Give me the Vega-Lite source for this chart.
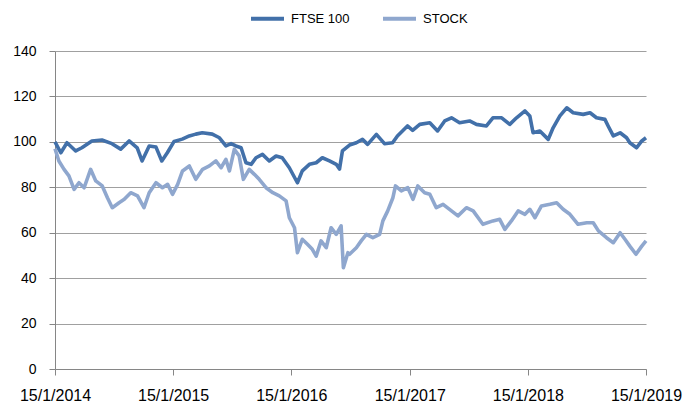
{
  "$schema": "https://vega.github.io/schema/vega-lite/v6.json",
  "width": 591,
  "height": 318,
  "autosize": {"type": "none"},
  "padding": {"left": 55, "top": 51, "right": 37, "bottom": 36},
  "background": "white",
  "config": {
    "view": {"stroke": null},
    "font": "Liberation Sans"
  },
  "datasets": {
    "ftse": [
      {"d":"2014-01-15","v":100},{"d":"2014-02-02","v":95.2},{"d":"2014-02-21","v":99.6},{"d":"2014-03-20","v":96},
      {"d":"2014-04-08","v":97.4},{"d":"2014-05-09","v":100.4},{"d":"2014-06-09","v":100.8},{"d":"2014-07-10","v":99.2},
      {"d":"2014-08-06","v":96.8},{"d":"2014-09-01","v":100.4},{"d":"2014-09-26","v":97.4},{"d":"2014-10-11","v":91.6},
      {"d":"2014-11-02","v":98.2},{"d":"2014-11-23","v":97.7},{"d":"2014-12-11","v":91.6},{"d":"2014-12-28","v":95.2},
      {"d":"2015-01-18","v":100.2},{"d":"2015-02-12","v":101.2},{"d":"2015-03-06","v":102.6},{"d":"2015-03-26","v":103.4},
      {"d":"2015-04-15","v":104},{"d":"2015-05-16","v":103.4},{"d":"2015-06-07","v":101.8},{"d":"2015-06-27","v":98.2},
      {"d":"2015-07-13","v":99.2},{"d":"2015-07-28","v":98.2},{"d":"2015-08-13","v":97.4},{"d":"2015-08-28","v":90.8},
      {"d":"2015-09-13","v":90.1},{"d":"2015-09-28","v":93},{"d":"2015-10-18","v":94.5},{"d":"2015-11-08","v":91.6},
      {"d":"2015-11-29","v":93.8},{"d":"2015-12-18","v":93},{"d":"2016-01-09","v":88.6},{"d":"2016-02-03","v":82},
      {"d":"2016-02-18","v":87.2},{"d":"2016-03-11","v":90.1},{"d":"2016-04-01","v":90.8},{"d":"2016-04-20","v":93},
      {"d":"2016-05-12","v":91.6},{"d":"2016-06-02","v":90.1},{"d":"2016-06-12","v":88},{"d":"2016-06-21","v":96},
      {"d":"2016-07-13","v":98.6},{"d":"2016-08-03","v":99.6},{"d":"2016-08-22","v":101.1},{"d":"2016-09-07","v":98.9},
      {"d":"2016-10-04","v":103.3},{"d":"2016-10-29","v":99.2},{"d":"2016-11-23","v":99.6},{"d":"2016-12-08","v":102.6},
      {"d":"2017-01-08","v":107},{"d":"2017-01-24","v":105.1},{"d":"2017-02-15","v":107.7},{"d":"2017-03-18","v":108.4},
      {"d":"2017-04-11","v":104.8},{"d":"2017-05-03","v":109.2},{"d":"2017-05-24","v":110.6},{"d":"2017-06-18","v":108.4},
      {"d":"2017-07-19","v":109.2},{"d":"2017-08-09","v":107.7},{"d":"2017-09-09","v":107},{"d":"2017-09-29","v":110.6},
      {"d":"2017-10-26","v":110.6},{"d":"2017-11-20","v":107.7},{"d":"2017-12-11","v":110.6},{"d":"2018-01-06","v":113.6},
      {"d":"2018-01-21","v":111.4},{"d":"2018-01-31","v":104},{"d":"2018-02-21","v":104.8},{"d":"2018-03-19","v":101.1},
      {"d":"2018-04-03","v":106.2},{"d":"2018-04-24","v":111.4},{"d":"2018-05-15","v":115},{"d":"2018-06-04","v":112.8},
      {"d":"2018-07-05","v":112.1},{"d":"2018-07-26","v":112.8},{"d":"2018-08-15","v":110.6},{"d":"2018-09-10","v":109.9},
      {"d":"2018-09-20","v":107},{"d":"2018-10-06","v":102.6},{"d":"2018-10-27","v":104},{"d":"2018-11-16","v":101.8},
      {"d":"2018-11-26","v":99.6},{"d":"2018-12-17","v":97.4},{"d":"2019-01-02","v":100.4},{"d":"2019-01-15","v":101.8}
    ],
    "stock": [
      {"d":"2014-01-15","v":97},{"d":"2014-01-27","v":91.6},{"d":"2014-02-12","v":87.9},{"d":"2014-02-27","v":85},
      {"d":"2014-03-15","v":79.1},{"d":"2014-03-30","v":82},{"d":"2014-04-15","v":79.8},{"d":"2014-05-05","v":87.9},
      {"d":"2014-05-21","v":82.8},{"d":"2014-06-10","v":80.6},{"d":"2014-06-26","v":75.4},{"d":"2014-07-11","v":71},
      {"d":"2014-08-01","v":73.2},{"d":"2014-08-17","v":74.7},{"d":"2014-09-06","v":77.6},{"d":"2014-09-27","v":76.2},
      {"d":"2014-10-17","v":71},{"d":"2014-11-02","v":77.6},{"d":"2014-11-23","v":82},{"d":"2014-12-13","v":79.8},
      {"d":"2014-12-29","v":81.3},{"d":"2015-01-13","v":76.9},{"d":"2015-01-29","v":81.3},{"d":"2015-02-13","v":87.2},
      {"d":"2015-03-06","v":89.4},{"d":"2015-03-26","v":83.5},{"d":"2015-04-16","v":87.9},{"d":"2015-05-07","v":89.4},
      {"d":"2015-05-27","v":91.6},{"d":"2015-06-12","v":88.6},{"d":"2015-06-27","v":92.3},{"d":"2015-07-08","v":87.2},
      {"d":"2015-07-23","v":96.7},{"d":"2015-08-07","v":93.8},{"d":"2015-08-20","v":83.5},{"d":"2015-09-07","v":87.9},
      {"d":"2015-09-23","v":85.7},{"d":"2015-10-08","v":83.5},{"d":"2015-10-29","v":79.8},{"d":"2015-11-19","v":77.6},
      {"d":"2015-12-09","v":76.2},{"d":"2015-12-30","v":74},{"d":"2016-01-09","v":66.6},{"d":"2016-01-25","v":62.2},
      {"d":"2016-02-03","v":51.2},{"d":"2016-02-18","v":57.1},{"d":"2016-03-05","v":54.9},{"d":"2016-03-20","v":52.7},
      {"d":"2016-04-01","v":49.7},{"d":"2016-04-16","v":56.4},{"d":"2016-05-02","v":53.4},{"d":"2016-05-17","v":62.2},
      {"d":"2016-06-02","v":59.3},{"d":"2016-06-17","v":63},{"d":"2016-06-24","v":44.6},{"d":"2016-07-08","v":51.2},
      {"d":"2016-07-13","v":50.5},{"d":"2016-08-03","v":53.4},{"d":"2016-08-18","v":56.4},{"d":"2016-09-03","v":59.3},
      {"d":"2016-09-23","v":57.8},{"d":"2016-10-14","v":59.3},{"d":"2016-10-24","v":65.2},{"d":"2016-11-08","v":69.6},
      {"d":"2016-11-24","v":75.4},{"d":"2016-12-02","v":80.6},{"d":"2016-12-20","v":78.4},{"d":"2017-01-09","v":79.8},
      {"d":"2017-01-25","v":74.7},{"d":"2017-02-09","v":80.6},{"d":"2017-03-02","v":77.6},{"d":"2017-03-18","v":76.9},
      {"d":"2017-04-07","v":71},{"d":"2017-04-28","v":72.5},{"d":"2017-05-18","v":70.3},{"d":"2017-06-13","v":67.4},
      {"d":"2017-07-09","v":71},{"d":"2017-07-30","v":69.6},{"d":"2017-08-29","v":63.7},{"d":"2017-09-29","v":65.2},
      {"d":"2017-10-20","v":65.9},{"d":"2017-11-05","v":61.5},{"d":"2017-11-25","v":65.2},{"d":"2017-12-16","v":69.6},
      {"d":"2018-01-06","v":68.1},{"d":"2018-01-21","v":70.3},{"d":"2018-02-06","v":66.6},{"d":"2018-02-26","v":71.8},
      {"d":"2018-03-24","v":72.5},{"d":"2018-04-14","v":73.2},{"d":"2018-05-04","v":70.3},{"d":"2018-05-25","v":68.1},
      {"d":"2018-06-19","v":63.7},{"d":"2018-07-16","v":64.4},{"d":"2018-08-05","v":64.4},{"d":"2018-08-21","v":60.8},
      {"d":"2018-09-15","v":57.8},{"d":"2018-10-06","v":55.6},{"d":"2018-10-27","v":60},{"d":"2018-11-11","v":57.1},
      {"d":"2018-11-26","v":54.1},{"d":"2018-12-15","v":50.5},{"d":"2019-01-02","v":54.1},{"d":"2019-01-15","v":56.4}
    ]
  },
  "encoding": {
    "x": {
      "field": "d",
      "type": "temporal",
      "scale": {
        "type": "utc",
        "nice": false,
        "domain": [
          {"year": 2014, "month": 1, "date": 15, "utc": true},
          {"year": 2019, "month": 1, "date": 15, "utc": true}
        ]
      },
      "axis": {
        "title": null,
        "grid": false,
        "values": [
          {"year": 2014, "month": 1, "date": 15, "utc": true},
          {"year": 2015, "month": 1, "date": 15, "utc": true},
          {"year": 2016, "month": 1, "date": 15, "utc": true},
          {"year": 2017, "month": 1, "date": 15, "utc": true},
          {"year": 2018, "month": 1, "date": 15, "utc": true},
          {"year": 2019, "month": 1, "date": 15, "utc": true}
        ],
        "labelExpr": "utcFormat(datum.value, '%-d/%-m/%Y')",
        "labelFontSize": 16,
        "labelColor": "#000000",
        "labelPadding": 12,
        "labelFlush": false,
        "labelOverlap": false,
        "domainColor": "#868686",
        "tickColor": "#868686",
        "tickSize": 6
      }
    },
    "y": {
      "field": "v",
      "type": "quantitative",
      "scale": {"domain": [0, 140], "nice": false},
      "axis": {
        "title": null,
        "values": [0, 20, 40, 60, 80, 100, 120, 140],
        "grid": true,
        "gridColor": "#a0a0a0",
        "gridWidth": 1.2,
        "labelFontSize": 14,
        "labelColor": "#000000",
        "labelPadding": 13,
        "domainColor": "#868686",
        "tickColor": "#868686",
        "tickSize": 6
      }
    },
    "color": {
      "field": "s",
      "type": "nominal",
      "scale": {"domain": ["FTSE 100", "STOCK"], "range": ["#4270A9", "#8FA7CE"]},
      "legend": {
        "title": null,
        "orient": "none",
        "direction": "horizontal",
        "legendX": 194,
        "legendY": -51,
        "symbolType": "stroke",
        "symbolSize": 1089,
        "symbolStrokeWidth": 4,
        "labelFontSize": 13,
        "labelColor": "#000000",
        "labelOffset": 5,
        "columnPadding": 25
      }
    }
  },
  "layer": [
    {
      "data": {"name": "stock"},
      "transform": [{"calculate": "'STOCK'", "as": "s"}],
      "mark": {"type": "line", "strokeWidth": 3.6, "strokeJoin": "round"}
    },
    {
      "data": {"name": "ftse"},
      "transform": [{"calculate": "'FTSE 100'", "as": "s"}],
      "mark": {"type": "line", "strokeWidth": 3.6, "strokeJoin": "round"}
    }
  ]
}
